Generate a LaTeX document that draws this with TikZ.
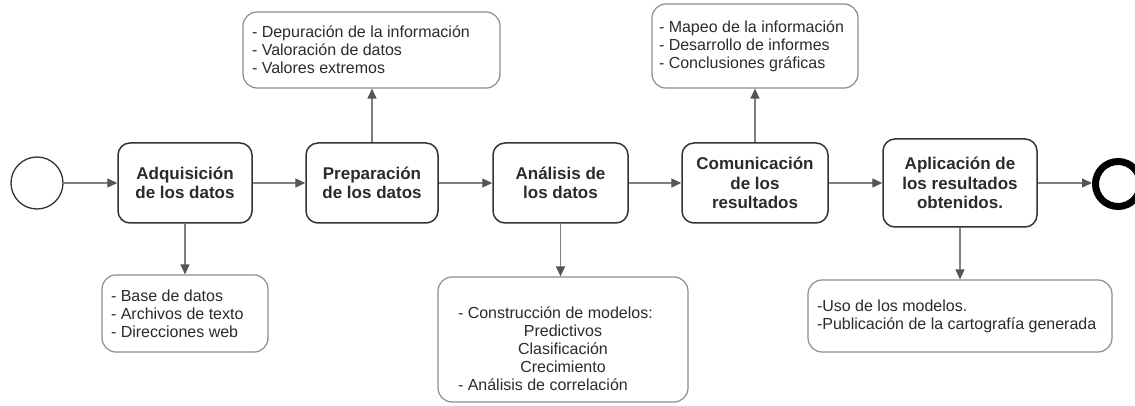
\documentclass[tikz,border=0pt]{standalone}
\usepackage{fontspec}
\setmainfont{Liberation Sans}
\usetikzlibrary{positioning, calc, arrows.meta}
\hyphenpenalty=10000

\definecolor{boxline}{HTML}{333333}
\definecolor{noteline}{HTML}{8C8C8C}
\definecolor{flowline}{HTML}{808080}
\definecolor{tipcol}{HTML}{555555}
\definecolor{txt}{HTML}{2B2B2B}

\tikzset{
  etapa/.style={draw=boxline, line width=1.5pt, rounded corners=12pt, fill=white,
    font=\fontsize{17}{19.5}\selectfont\bfseries, text=txt, align=center, inner sep=0pt},
  nota/.style={draw=noteline, line width=1.2pt, rounded corners=14pt, fill=white,
    font=\fontsize{16}{18}\selectfont, text=txt, align=flush left,
    inner xsep=9pt, inner ysep=0pt},
  flujo/.style={draw=flowline, line width=1.3pt, -{Triangle[length=10pt,width=9pt,color=tipcol]}},
}

\begin{document}
\begin{tikzpicture}[x=1pt, y=-1pt]
  \useasboundingbox (0,0) rectangle (1135,406);

  % eventos
  \node[circle, draw=boxline, line width=1.3pt, minimum size=52pt, inner sep=0pt] (inicio) at (37,183) {};
  \node[circle, draw=black, line width=7pt, minimum size=45pt, inner sep=0pt] (fin) at (1118,184) {};

  % etapas
  \node[etapa, minimum width=134pt, minimum height=80pt] (adq) at (185,183) {Adquisición\\de los datos};
  \node[etapa, minimum width=132pt, minimum height=80pt] (prep) at (372,183) {Preparación\\de los datos};
  \node[etapa, minimum width=135pt, minimum height=80pt] (anal) at (560.5,183) {Análisis de\\los datos};
  \node[etapa, minimum width=146pt, minimum height=80pt] (comu) at (755,183) {Comunicación\\de los\\resultados};
  \node[etapa, minimum width=154pt, minimum height=88pt] (apli) at (960,183) {Aplicación de\\los resultados\\obtenidos.};

  % notas
  \node[nota, text width=239pt, minimum height=76pt] (nprep) at (371.5,50)
    {- Depuración de la información\\- Valoración de datos\\- Valores extremos};
  \node[nota, inner xsep=7pt, text width=192pt, minimum height=84pt] (ncomu) at (755,46)
    {- Mapeo de la información\\- Desarrollo de informes\\- Conclusiones gráficas};
  \node[nota, text width=148pt, minimum height=77pt] (nadq) at (185,313.5)
    {- Base de datos\\- Archivos de texto\\- Direcciones web};
  \node[nota, inner xsep=20pt, text width=210pt, minimum height=125pt] (nanal) at (563,339.5)
    {\rule{0pt}{30pt}- Construcción de modelos:\\
     \makebox[\linewidth][c]{Predictivos}\\
     \makebox[\linewidth][c]{Clasificación}\\
     \makebox[\linewidth][c]{Crecimiento}\\
     - Análisis de correlación};
  \node[nota, text width=286pt, minimum height=72pt] (napli) at (960,316)
    {-Uso de los modelos.\\-Publicación de la cartografía generada};

  % flujo principal
  \draw[flujo] (inicio) -- (adq);
  \draw[flujo] (adq) -- (prep);
  \draw[flujo] (prep) -- (anal);
  \draw[flujo] (anal) -- (comu);
  \draw[flujo] (comu) -- (apli);
  \draw[flujo] (apli.east) -- (fin.west |- apli.east);

  % salidas
  \draw[flujo] (prep.north) -- (prep.north |- nprep.south);
  \draw[flujo] (comu.north) -- (ncomu.south);
  \draw[flujo] (adq.south) -- (nadq.north);
  \draw[flujo] (anal.south) -- (anal.south |- nanal.north);
  \draw[flujo] (apli.south) -- (napli.north);
\end{tikzpicture}
\end{document}
